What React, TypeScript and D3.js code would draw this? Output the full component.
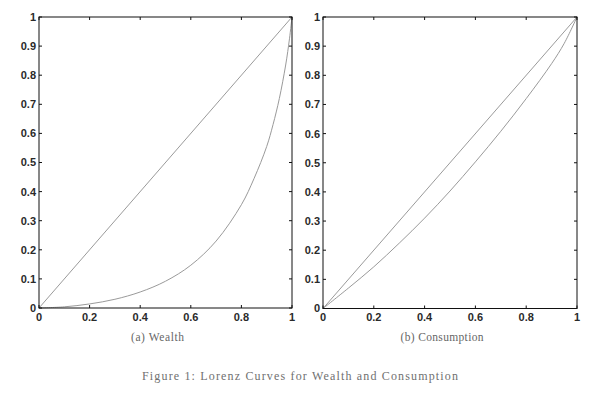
import React from 'react';
import * as d3 from 'd3';

// population share (x) and cumulative share (y)
const equalityX = [0, 1];
const equalityY = [0, 1];

const wealthX = [0, 0.1, 0.2, 0.3, 0.4, 0.5, 0.6, 0.7, 0.8, 0.85, 0.9, 0.925, 0.95, 0.975, 0.99, 1];
const wealthY = [0, 0.004, 0.014, 0.03, 0.055, 0.092, 0.147, 0.23, 0.355, 0.445, 0.555, 0.63, 0.72, 0.835, 0.925, 1];

const consX = [0, 0.1, 0.2, 0.3, 0.4, 0.5, 0.6, 0.7, 0.8, 0.9, 0.95, 1];
const consY = [0, 0.07, 0.143, 0.224, 0.31, 0.403, 0.503, 0.608, 0.72, 0.84, 0.91, 1];

const xTicks = [0, 0.2, 0.4, 0.6, 0.8, 1];
const yTicks = [0, 0.1, 0.2, 0.3, 0.4, 0.5, 0.6, 0.7, 0.8, 0.9, 1];

type PanelProps = {
  left: number;
  right: number;
  top: number;
  bottom: number;
  curveX: number[];
  curveY: number[];
  caption: string;
  captionWidth: number;
};

function Panel({ left, right, top, bottom, curveX, curveY, caption, captionWidth }: PanelProps) {
  const x = d3.scaleLinear().domain([0, 1]).range([left, right]);
  const y = d3.scaleLinear().domain([0, 1]).range([bottom, top]);

  const path = (xs: number[], ys: number[]) =>
    d3
      .line<number>()
      .x((d) => x(d))
      .y((_, i) => y(ys[i]))
      .curve(d3.curveCatmullRom.alpha(0.5))(xs) || '';

  const tick = 3;
  const labelFont = { fontFamily: 'Liberation Sans, Arial, sans-serif', fontSize: 11, fontWeight: 700, fill: '#2a2a2a' };

  return (
    <g>
      <path d={path(equalityX, equalityY)} fill="none" stroke="#9a9a9a" strokeWidth={1} />
      <path d={path(curveX, curveY)} fill="none" stroke="#9a9a9a" strokeWidth={1} />

      <rect x={left} y={top} width={right - left} height={bottom - top} fill="none" stroke="#111" strokeWidth={1} />

      {xTicks.map((t) => (
        <g key={'x' + t}>
          <line x1={x(t)} x2={x(t)} y1={bottom} y2={bottom - tick} stroke="#111" />
          <line x1={x(t)} x2={x(t)} y1={top} y2={top + tick} stroke="#111" />
          <text x={x(t)} y={321} textAnchor="middle" {...labelFont}>
            {String(t)}
          </text>
        </g>
      ))}
      {yTicks.map((t) => (
        <g key={'y' + t}>
          <line x1={left} x2={left + tick} y1={y(t)} y2={y(t)} stroke="#111" />
          <line x1={right} x2={right - tick} y1={y(t)} y2={y(t)} stroke="#111" />
          <text x={left - 3} y={y(t)} dy="0.36em" textAnchor="end" {...labelFont}>
            {String(t)}
          </text>
        </g>
      ))}

      {/* sub-figure caption, a little left of the plot centre as in the original */}
      <text
        x={(left + right) / 2 - 8}
        y={341}
        textAnchor="middle"
        fontFamily="Liberation Serif, serif"
        fontSize={11.5}
        fill="#666"
        textLength={captionWidth}
        lengthAdjust="spacing"
      >
        {caption}
      </text>
    </g>
  );
}

export default function App() {
  return (
    <svg width={600} height={393} style={{ position: 'absolute', left: 0, top: 0, background: '#fff' }}>
      <rect width={600} height={393} fill="#fff" />
      <Panel left={39} right={292} top={17} bottom={308} curveX={wealthX} curveY={wealthY} caption="(a) Wealth" captionWidth={53} />
      <Panel left={323} right={577} top={17} bottom={308.5} curveX={consX} curveY={consY} caption="(b) Consumption" captionWidth={83} />
      <text
        x={300}
        y={380}
        textAnchor="middle"
        fontFamily="Liberation Serif, serif"
        fontSize={12}
        fill="#707070"
        textLength={316}
        lengthAdjust="spacing"
      >
        Figure 1: Lorenz Curves for Wealth and Consumption
      </text>
    </svg>
  );
}
